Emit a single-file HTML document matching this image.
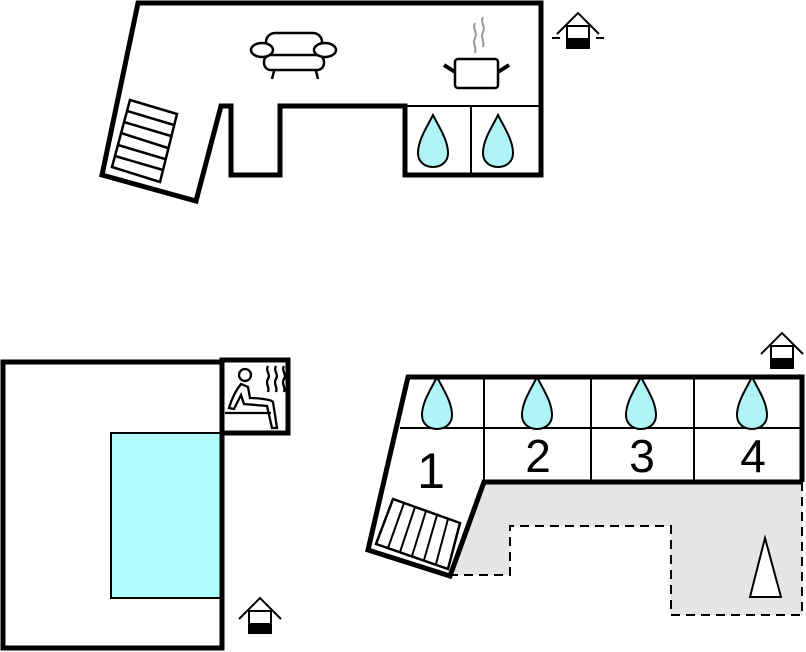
<!DOCTYPE html>
<html><head><meta charset="utf-8"><style>html,body{margin:0;padding:0;background:#fff;}svg{display:block}</style></head>
<body>
<svg width="806" height="652" viewBox="0 0 806 652" xmlns="http://www.w3.org/2000/svg">
<defs>
<g id="drop"><path d="M0,0 C-6,12 -15,25 -15,38 C-15,47 -8,52 0,52 C8,52 15,47 15,38 C15,25 6,12 0,0 Z" fill="#b0f4f8" stroke="#000" stroke-width="2"/></g>
<g id="house">
<polyline points="-21,21 0,0 21,21" fill="none" stroke="#000" stroke-width="2"/>
<rect x="-11" y="13" width="22" height="22" fill="#fff" stroke="#000" stroke-width="2"/>
<rect x="-11" y="25" width="22" height="10" fill="#000"/>
</g>
</defs>

<!-- TOP BUILDING -->
<polygon points="138,3 541,3 541,175 405,175 405,106 280,106 280,175 231,175 231,106 221,106 196,201 102,175" fill="#fff" stroke="#000" stroke-width="5" stroke-linejoin="miter"/>
<line x1="405" y1="106" x2="541" y2="106" stroke="#000" stroke-width="2"/>
<line x1="471" y1="106" x2="471" y2="175" stroke="#000" stroke-width="2"/>
<polygon points="130,100 177,114 160,182 112,167" fill="#fff" stroke="#000" stroke-width="2.5"/>
<g stroke="#000" stroke-width="2.5">
<line x1="127" y1="111" x2="174" y2="125"/>
<line x1="124" y1="122" x2="171" y2="136"/>
<line x1="121" y1="133" x2="168" y2="148"/>
<line x1="118" y1="145" x2="165" y2="159"/>
<line x1="115" y1="156" x2="163" y2="170"/>
</g>
<use href="#drop" x="433" y="115"/>
<use href="#drop" x="498" y="115"/>
<g fill="#fff" stroke="#000" stroke-width="2.5">
<line x1="275" y1="67" x2="272" y2="79"/>
<line x1="315" y1="67" x2="318" y2="79"/>
<rect x="266" y="33" width="56" height="26" rx="9"/>
<rect x="264" y="55" width="60" height="15" rx="7"/>
<ellipse cx="262" cy="50" rx="11" ry="7"/>
<ellipse cx="325" cy="50" rx="11" ry="7"/>
</g>
<g stroke="#999" stroke-width="2" fill="none">
<path d="M475,23 c-3,6 3,9 0,15 c-3,6 2,9 0,15"/>
<path d="M483,17 c-3,6 3,9 0,15 c-3,6 2,9 0,15"/>
</g>
<rect x="455" y="59" width="43" height="29" rx="3" fill="#fff" stroke="#000" stroke-width="2.5"/>
<line x1="444" y1="65" x2="455" y2="72" stroke="#000" stroke-width="4"/>
<line x1="498" y1="72" x2="509" y2="65" stroke="#000" stroke-width="4"/>
<use href="#house" x="578" y="13"/>
<line x1="552" y1="38" x2="560" y2="38" stroke="#000" stroke-width="2"/>
<line x1="596" y1="38" x2="604" y2="38" stroke="#000" stroke-width="2"/>

<!-- BOTTOM LEFT -->
<rect x="3" y="362" width="219" height="286" fill="#fff" stroke="#000" stroke-width="5"/>
<rect x="111" y="433" width="111" height="165" fill="#b0ffff" stroke="#000" stroke-width="2"/>
<line x1="222" y1="360" x2="222" y2="648" stroke="#000" stroke-width="5"/>
<rect x="222" y="360" width="66" height="73" fill="#fff" stroke="#000" stroke-width="5"/>
<g fill="none" stroke="#000" stroke-width="2.3">
<circle cx="245" cy="375" r="6"/>
<path d="M241,384 C236,390 232,398 229,408 L234,409 L241,395 L244,404 L267,406 L272,428 L277,428 L273,402 C271,399 255,398 250,398 L248,387 Z"/>
<line x1="225" y1="413" x2="271" y2="413"/>
<path d="M268,366 c-3,5 3,8 0,13 c-3,5 2,8 0,13"/>
<path d="M276,366 c-3,5 3,8 0,13 c-3,5 2,8 0,13"/>
<path d="M284,366 c-3,5 3,8 0,13 c-3,5 2,8 0,13"/>
</g>
<use href="#house" x="260" y="598"/>

<!-- BOTTOM RIGHT -->
<polygon points="484,482 802,482 802,615 671,615 671,526 510,526 510,575 450,575" fill="#e5e5e5"/>
<polyline points="802,482 802,615 671,615 671,526 510,526 510,575 450,575" fill="none" stroke="#000" stroke-width="2" stroke-dasharray="9,6"/>
<polygon points="408,377 802,377 802,482 484,482 450,576 368,550" fill="#fff"/>
<line x1="400" y1="428" x2="802" y2="428" stroke="#000" stroke-width="2"/>
<g stroke="#000" stroke-width="2">
<line x1="484" y1="377" x2="484" y2="482"/>
<line x1="591" y1="377" x2="591" y2="482"/>
<line x1="694" y1="377" x2="694" y2="482"/>
</g>
<polyline points="802,482 484,482 450,576 368,550 408,377 802,377 802,482" fill="none" stroke="#000" stroke-width="5" stroke-linejoin="miter"/>
<use href="#drop" x="437" y="377"/>
<use href="#drop" x="537" y="377"/>
<use href="#drop" x="641" y="377"/>
<use href="#drop" x="752" y="377"/>
<g font-family="Liberation Sans, sans-serif" font-size="46" fill="#000" text-anchor="middle">
<text x="431" y="488" font-size="50">1</text>
<text x="538" y="472">2</text>
<text x="642" y="472">3</text>
<text x="753" y="472">4</text>
</g>
<polygon points="393,499 460,523 448,569 376,544" fill="#fff" stroke="#000" stroke-width="2.5"/>
<g stroke="#000" stroke-width="2">
<line x1="404" y1="503" x2="388" y2="548"/>
<line x1="415" y1="507" x2="400" y2="552"/>
<line x1="426" y1="511" x2="412" y2="556"/>
<line x1="437" y1="515" x2="424" y2="560"/>
<line x1="448" y1="519" x2="436" y2="564"/>
</g>
<polygon points="765,538 781,597 750,597" fill="#fff" stroke="#000" stroke-width="2"/>
<use href="#house" x="782" y="333"/>
</svg>
</body></html>
